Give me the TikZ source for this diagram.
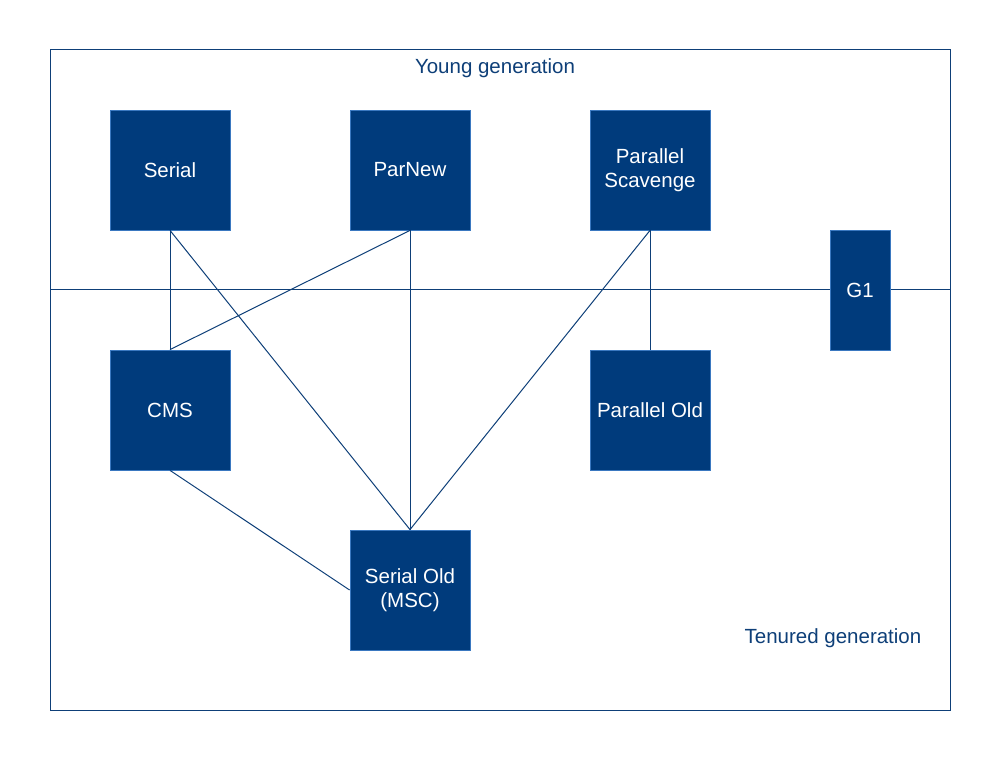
\documentclass[tikz,border=0pt]{standalone}
\usepackage{fontspec}
\setmainfont{Liberation Sans}
\definecolor{gcblue}{HTML}{003B7C}
\definecolor{gcedge}{HTML}{3A78C0}
\definecolor{gcline}{HTML}{0E3F78}
\begin{document}
\begin{tikzpicture}[x=1pt,y=-1pt,
  gcbox/.style={draw=gcedge, line width=0.8pt, fill=gcblue, text=white, minimum width=120pt, minimum height=120pt, inner sep=0pt, align=center, font=\fontsize{20.5}{24}\selectfont},
  link/.style={draw=gcline, line width=1pt},
  label/.style={text=gcline, font=\fontsize{20.5}{24}\selectfont, inner sep=0pt}]
\useasboundingbox (0,0) rectangle (1002,762);
\draw[link] (50,50) rectangle (950,710);
\coordinate (hl) at (50,290);
\coordinate (hr) at (950,290);
\draw[link] (hl) -- (hr);
\node[label] (young) at (495,68) {Young generation};
\node[label] (tenured) at (833,638) {Tenured generation};
\node[gcbox] (serial) at (170,170) {Serial};
\node[gcbox] (parnew) at (410,170) {ParNew};
\node[gcbox] (ps) at (650,170) {Parallel\\Scavenge};
\node[gcbox] (cms) at (170,410) {CMS};
\node[gcbox] (po) at (650,410) {Parallel Old};
\node[gcbox] (so) at (410,590) {Serial Old\\(MSC)};
\node[gcbox, minimum width=60pt] (g1) at (860,290) {G1};
\draw[link] (serial.south) -- (cms.north);
\draw[link] (serial.south) -- (so.north);
\draw[link] (parnew.south) -- (cms.north);
\draw[link] (parnew.south) -- (so.north);
\draw[link] (ps.south) -- (so.north);
\draw[link] (ps.south) -- (po.north);
\draw[link] (cms.south) -- (so.west);
\end{tikzpicture}
\end{document}
